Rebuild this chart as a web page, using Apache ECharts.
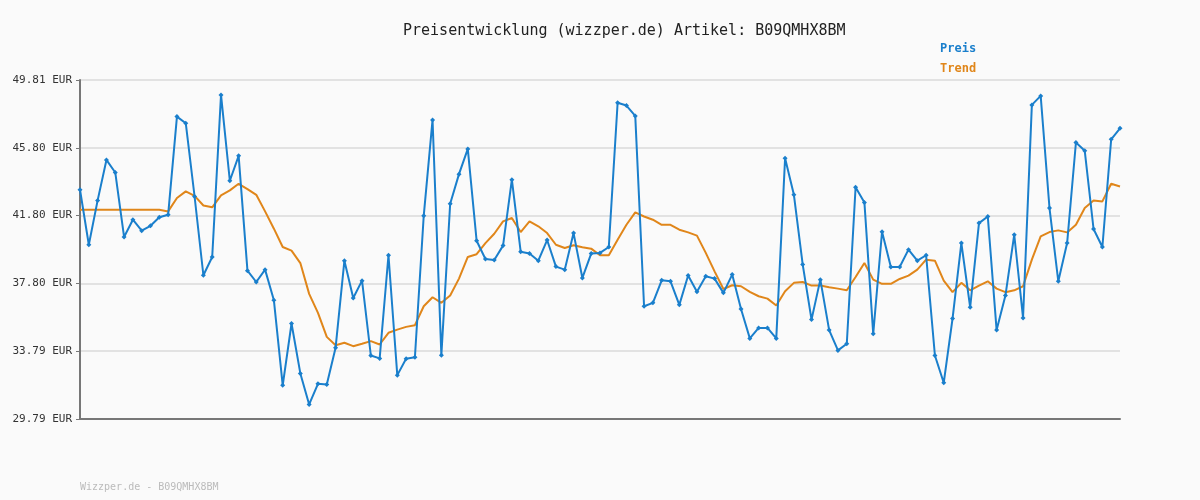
<!DOCTYPE html>
<html>
<head>
  <meta charset="utf-8">
  <title>Preisentwicklung</title>
  <script src="https://cdn.jsdelivr.net/npm/echarts@6/dist/echarts.min.js"></script>
  <style>
    html, body { margin: 0; padding: 0; background: #fafafa; }
    #chart { width: 1200px; height: 500px; }
  </style>
</head>
<body>
<div id="chart"></div>
<script>
var preis = [
  43.33, 40.08, 42.70, 45.09, 44.35, 40.54, 41.56, 40.91, 41.20, 41.70,
  41.85, 47.65, 47.26, 42.93, 38.28, 39.36, 48.93, 43.86, 45.33, 38.55,
  37.88, 38.61, 36.80, 31.78, 35.43, 32.48, 30.65, 31.87, 31.83, 34.00,
  39.14, 36.94, 37.96, 33.54, 33.37, 39.46, 32.38, 33.35, 33.44, 41.79,
  47.45, 33.56, 42.50, 44.25, 45.74, 40.32, 39.24, 39.18, 40.03, 43.92,
  39.67, 39.56, 39.14, 40.36, 38.79, 38.61, 40.77, 38.12, 39.56, 39.60,
  39.95, 48.47, 48.30, 47.69, 36.45, 36.65, 37.98, 37.92, 36.53, 38.26,
  37.30, 38.22, 38.08, 37.24, 38.32, 36.29, 34.55, 35.17, 35.17, 34.55,
  45.19, 43.03, 38.91, 35.66, 38.02, 35.04, 33.84, 34.23, 43.48, 42.58,
  34.82, 40.85, 38.77, 38.77, 39.79, 39.14, 39.46, 33.54, 31.93, 35.72,
  40.18, 36.39, 41.36, 41.75, 35.04, 37.08, 40.67, 35.76, 48.34, 48.87,
  42.25, 37.92, 40.18, 46.12, 45.63, 41.01, 39.95, 46.31, 46.96
];

var trend = [
  42.15, 42.15, 42.15, 42.15, 42.15, 42.15, 42.15, 42.15, 42.15, 42.15,
  42.05, 42.84, 43.23, 42.97, 42.40, 42.29, 43.00, 43.29, 43.68, 43.37,
  43.03, 42.05, 41.03, 39.95, 39.73, 39.00, 37.18, 36.06, 34.64, 34.15,
  34.29, 34.09, 34.23, 34.39, 34.19, 34.88, 35.07, 35.23, 35.33, 36.45,
  36.98, 36.65, 37.08, 38.08, 39.36, 39.52, 40.18, 40.73, 41.46, 41.66,
  40.83, 41.46, 41.17, 40.77, 40.08, 39.89, 40.05, 39.93, 39.85, 39.46,
  39.46, 40.38, 41.26, 41.99, 41.75, 41.56, 41.26, 41.26, 40.97, 40.81,
  40.62, 39.60, 38.51, 37.47, 37.69, 37.63, 37.30, 37.04, 36.90, 36.49,
  37.34, 37.83, 37.88, 37.67, 37.67, 37.57, 37.49, 37.39, 38.18, 39.00,
  38.02, 37.77, 37.77, 38.06, 38.26, 38.61, 39.20, 39.14, 37.96, 37.28,
  37.83, 37.39, 37.67, 37.92, 37.49, 37.28, 37.39, 37.63, 39.20, 40.58,
  40.83, 40.93, 40.81, 41.26, 42.25, 42.70, 42.64, 43.68, 43.52
];

var yTicks = ['29.79', '33.79', '37.80', '41.80', '45.80', '49.81'];

var kategorien = preis.map(function (v, i) { return i + 1; });

var mono = 'DejaVu Sans Mono';
var myChart = echarts.init(document.getElementById('chart'));

var option = {
  backgroundColor: '#fafafa',
  animation: false,
  title: {
    text: 'Preisentwicklung (wizzper.de) Artikel: B09QMHX8BM',
    left: 398,
    top: 19,
    textStyle: { fontFamily: mono, fontSize: 15, fontWeight: 'normal', color: '#222' }
  },
  graphic: [{
    type: 'text',
    left: 80,
    top: 482,
    style: { text: 'Wizzper.de - B09QMHX8BM', font: '10px "DejaVu Sans Mono"', fill: '#bbb' }
  }],
  legend: {
    orient: 'vertical',
    left: 930,
    top: 37,
    itemGap: 7,
    icon: 'none',
    itemWidth: 0,
    data: [
      { name: 'Preis', textStyle: { color: '#1a7fcc' } },
      { name: 'Trend', textStyle: { color: '#e0861a' } }
    ],
    textStyle: { fontFamily: mono, fontSize: 12, fontWeight: 'bold' }
  },
  grid: { left: 80, right: 80, top: 80, bottom: 81 },
  xAxis: {
    type: 'category',
    boundaryGap: false,
    data: kategorien,
    axisLine: { lineStyle: { color: '#777', width: 2 } },
    axisTick: { show: false },
    axisLabel: { show: false }
  },
  yAxis: {
    type: 'value',
    min: 29.79,
    max: 49.81,
    interval: 4.004,
    axisLine: { show: true, lineStyle: { color: '#777', width: 2 } },
    axisTick: { show: true, length: 4, lineStyle: { color: '#777' } },
    splitLine: { lineStyle: { color: '#e2e2e2', width: 2 } },
    axisLabel: {
      fontFamily: mono,
      fontSize: 11,
      color: '#333',
      margin: 8,
      formatter: function (v) {
        var idx = Math.round((v - 29.79) / 4.004);
        return yTicks[idx] + ' EUR';
      }
    }
  },
  series: [
    {
      name: 'Preis',
      type: 'line',
      data: preis,
      symbol: 'diamond',
      symbolSize: 5,
      itemStyle: { color: '#1a7fcc' },
      lineStyle: { color: '#1a7fcc', width: 2 },
      z: 3
    },
    {
      name: 'Trend',
      type: 'line',
      data: trend,
      showSymbol: false,
      itemStyle: { color: '#e0861a' },
      lineStyle: { color: '#e0861a', width: 2 },
      z: 2
    }
  ]
};

myChart.setOption(option, true);
</script>
</body>
</html>
